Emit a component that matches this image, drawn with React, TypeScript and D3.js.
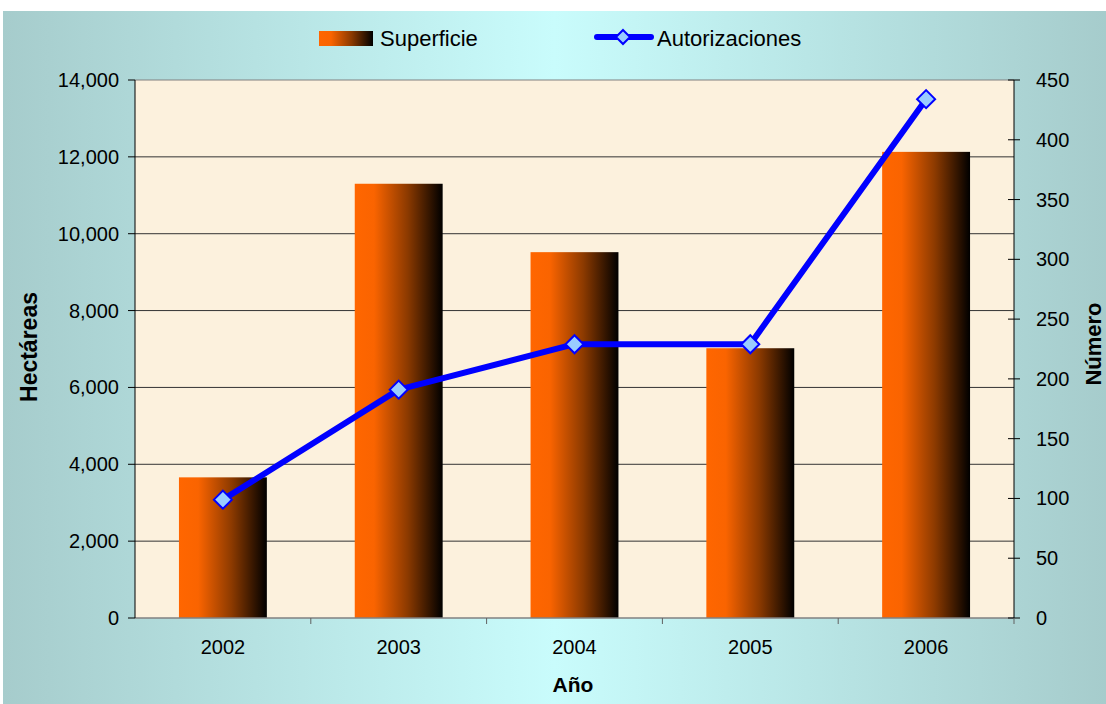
import React from 'react'
import * as d3 from 'd3'

// chart data
const years = ['2002', '2003', '2004', '2005', '2006']
const superficie = [3660, 11300, 9520, 7020, 12130]
const autorizaciones = [99, 191, 229, 229, 434]
const leftTicks = [0, 2000, 4000, 6000, 8000, 10000, 12000, 14000]
const rightTicks = [0, 50, 100, 150, 200, 250, 300, 350, 400, 450]

const W = 1106
const H = 704
const font = '"Liberation Sans", Arial, sans-serif'

const plot = { left: 135, right: 1014, top: 80, bottom: 618 }

const diamond = (cx: number, cy: number, r: number) =>
  `M${cx},${cy - r}L${cx + r},${cy}L${cx},${cy + r}L${cx - r},${cy}Z`

export default function App() {
  const x = d3.scaleBand().domain(years).range([plot.left, plot.right]).paddingInner(0.5).paddingOuter(0.25)
  const yL = d3.scaleLinear().domain([0, 14000]).range([plot.bottom, plot.top])
  const yR = d3.scaleLinear().domain([0, 450]).range([plot.bottom, plot.top])
  const fmt = d3.format(',')
  const step = x.step()

  const line = d3
    .line<number>()
    .x((_, i) => (x(years[i]) as number) + x.bandwidth() / 2)
    .y((d) => yR(d))

  return (
    <svg width={W} height={H} style={{ position: 'absolute', left: 0, top: 0 }} fontFamily={font}>
      <defs>
        <linearGradient id="bg" x1="0" x2="1" y1="0" y2="0">
          <stop offset="0" stopColor="#a6cccc" />
          <stop offset="0.5" stopColor="#c9fcfc" />
          <stop offset="1" stopColor="#a6cccc" />
        </linearGradient>
        <linearGradient id="bar" x1="0" x2="1" y1="0" y2="0">
          <stop offset="0" stopColor="#ff6600" />
          <stop offset="0.22" stopColor="#fa6400" />
          <stop offset="0.6" stopColor="#8c3a00" />
          <stop offset="1" stopColor="#000000" />
        </linearGradient>
      </defs>

      <rect x={0} y={0} width={W} height={H} fill="#ffffff" />
      <rect x={3} y={11} width={W - 3} height={H - 11} fill="url(#bg)" />

      {/* plot area */}
      <rect x={plot.left} y={plot.top} width={plot.right - plot.left} height={plot.bottom - plot.top} fill="#fcf1dd" />

      {leftTicks.slice(1).map((t) => (
        <line key={t} x1={plot.left} x2={plot.right} y1={yL(t)} y2={yL(t)} stroke={t === 14000 ? '#808080' : '#333'} strokeWidth={1} />
      ))}

      {/* bars */}
      {superficie.map((v, i) => (
        <rect
          key={years[i]}
          x={x(years[i])}
          y={yL(v)}
          width={x.bandwidth()}
          height={plot.bottom - yL(v)}
          fill="url(#bar)"
        />
      ))}

      {/* axes */}
      <line x1={plot.left} x2={plot.right} y1={plot.bottom} y2={plot.bottom} stroke="#808080" strokeWidth={1.5} />
      <line x1={plot.left} x2={plot.left} y1={plot.top} y2={plot.bottom} stroke="#000" />
      <line x1={plot.right} x2={plot.right} y1={plot.top} y2={plot.bottom} stroke="#000" />

      {leftTicks.map((t) => (
        <g key={'l' + t}>
          <line x1={plot.left - 7} x2={plot.left} y1={yL(t)} y2={yL(t)} stroke="#000" />
          <text x={plot.left - 16} y={yL(t)} dy="0.35em" textAnchor="end" fontSize={20} fill="#000">
            {fmt(t)}
          </text>
        </g>
      ))}

      {rightTicks.map((t) => (
        <g key={'r' + t}>
          <line x1={plot.right - 6} x2={plot.right + 6} y1={yR(t)} y2={yR(t)} stroke="#000" />
          <text x={plot.right + 22} y={yR(t)} dy="0.35em" textAnchor="start" fontSize={20} fill="#000">
            {t}
          </text>
        </g>
      ))}

      {years.map((yr, i) => (
        <g key={'c' + yr}>
          <line
            x1={plot.left + step * (i + 1)}
            x2={plot.left + step * (i + 1)}
            y1={plot.bottom}
            y2={plot.bottom + 6}
            stroke="#606060"
          />
          <text x={(x(yr) as number) + x.bandwidth() / 2} y={654} textAnchor="middle" fontSize={20} fill="#000">
            {yr}
          </text>
        </g>
      ))}

      {/* line series */}
      <path d={line(autorizaciones) || ''} fill="none" stroke="#0000ff" strokeWidth={6} strokeLinejoin="round" />
      {autorizaciones.map((v, i) => (
        <path
          key={'m' + i}
          d={diamond((x(years[i]) as number) + x.bandwidth() / 2, yR(v), 9)}
          fill="#99ccff"
          stroke="#0000ff"
          strokeWidth={2}
        />
      ))}

      {/* axis titles */}
      <text transform="translate(37,347) rotate(-90)" textAnchor="middle" fontSize={23} fontWeight="bold" fill="#000">
        Hectáreas
      </text>
      <text transform="translate(1101,344) rotate(-90)" textAnchor="middle" fontSize={22} fontWeight="bold" fill="#000">
        Número
      </text>
      <text x={573} y={692} textAnchor="middle" fontSize={21} fontWeight="bold" fill="#000">
        Año
      </text>

      {/* legend */}
      <rect x={319} y={31} width={54} height={15} fill="url(#bar)" />
      <text x={380} y={46} fontSize={22} fill="#000">
        Superficie
      </text>
      <line x1={597} x2={651} y1={37} y2={37} stroke="#0000ff" strokeWidth={6} strokeLinecap="round" />
      <path d={diamond(623, 37, 7)} fill="#99ccff" stroke="#0000ff" strokeWidth={2} />
      <text x={657} y={46} fontSize={22} fill="#000">
        Autorizaciones
      </text>
    </svg>
  )
}
